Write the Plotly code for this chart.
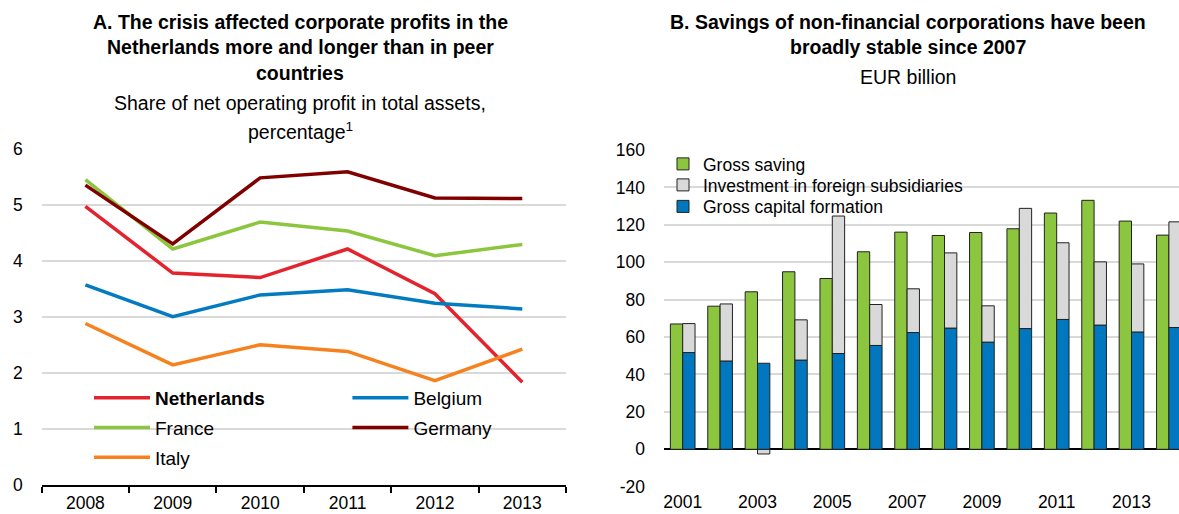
import plotly.graph_objects as go

# Panel A: share of net operating profit in total assets (%)
years_a = ['2008', '2009', '2010', '2011', '2012', '2013']
netherlands = [4.98, 3.79, 3.71, 4.22, 3.42, 1.84]
belgium = [3.58, 3.01, 3.40, 3.49, 3.25, 3.15]
france = [5.46, 4.22, 4.70, 4.54, 4.10, 4.30]
germany = [5.36, 4.31, 5.49, 5.60, 5.13, 5.12]
italy = [2.89, 2.15, 2.51, 2.39, 1.87, 2.43]

# Panel B: savings of non-financial corporations, EUR billion
years_b = list(range(2001, 2015))
gross_saving = [67, 76.5, 84.2, 94.9, 91.3, 105.6, 116.1, 114.3, 115.9, 117.9, 126.3, 133.1, 122, 114.5]
capital_formation = [51.7, 47.1, 46, 47.6, 51.2, 55.5, 62.4, 64.7, 57.2, 64.5, 69.4, 66.3, 62.6, 65.1]
foreign_subsidiaries = [15.5, 30.6, -2.5, 21.6, 73.5, 21.9, 23.4, 40.3, 19.5, 64.3, 41, 33.9, 36.5, 56.5]
tick_years_b = [2001, 2003, 2005, 2007, 2009, 2011, 2013]
ticks_b = list(range(-20, 161, 20))

FONT = 'Liberation Sans, Arial, sans-serif'
GRID = '#D9D9D9'
W, H = 1179, 514


def py(pix):
    return 1 - pix / H


def px(pix):
    return pix / W


fig = go.Figure()

lines = [
    ('<b>Netherlands</b>', netherlands, '#E3232D', 'legend'),
    ('Belgium', belgium, '#037BC1', 'legend2'),
    ('France', france, '#8CC63F', 'legend'),
    ('Germany', germany, '#800000', 'legend2'),
    ('Italy', italy, '#F5821F', 'legend'),
]
for name, vals, color, leg in lines:
    fig.add_trace(go.Scatter(
        x=years_a, y=vals, mode='lines', name=name,
        line=dict(color=color, width=3.5),
        legend=leg, legendgroup=name,
        xaxis='x', yaxis='y'
    ))

# Panel B bars: green on the left, blue + grey stacked on the right
outline = dict(color='#222222', width=1)
fig.add_trace(go.Bar(
    x=years_b, y=gross_saving, name='Gross saving',
    offset=-0.33, width=0.33,
    marker=dict(color='#8CC63F', line=outline),
    legend='legend3', xaxis='x2', yaxis='y2'
))
grey_base = [c if v >= 0 else 0 for c, v in zip(capital_formation, foreign_subsidiaries)]
fig.add_trace(go.Bar(
    x=years_b, y=foreign_subsidiaries, base=grey_base,
    name='Investment in foreign subsidiaries',
    offset=0, width=0.33,
    marker=dict(color='#D9D9D9', line=outline),
    legend='legend4', xaxis='x2', yaxis='y2'
))
fig.add_trace(go.Bar(
    x=years_b, y=capital_formation, name='Gross capital formation',
    offset=0, width=0.33,
    marker=dict(color='#0077BE', line=outline),
    legend='legend5', xaxis='x2', yaxis='y2'
))

titles = [
    ('<b>A. The crisis affected corporate profits in the</b>', 300, 22),
    ('<b>Netherlands more and longer than in peer</b>', 300, 47),
    ('<b>countries</b>', 300, 73),
    ('Share of net operating profit in total assets,', 300, 103),
    ('percentage<sup>1</sup>', 300, 131),
    ('<b>B. Savings of non-financial corporations have been</b>', 908, 22),
    ('<b>broadly stable since 2007</b>', 908, 47),
    ('EUR billion', 908, 77),
]
annotations = [
    dict(text=t, x=px(x), y=py(y), xref='paper', yref='paper',
         xanchor='center', yanchor='middle', showarrow=False,
         font=dict(family=FONT, size=19.5, color='black'))
    for t, x, y in titles
]


def legend_at(x, y, size=18, gap=0, itemwidth=30):
    return dict(
        x=px(x), y=py(y), xanchor='left', yanchor='top',
        bgcolor='rgba(0,0,0,0)', itemwidth=itemwidth, tracegroupgap=gap,
        font=dict(family=FONT, size=size)
    )


tick_font = dict(family=FONT, size=17.5, color='black')

fig.update_layout(
    width=W, height=H,
    margin=dict(l=0, r=0, t=0, b=0, autoexpand=False),
    paper_bgcolor='white', plot_bgcolor='white',
    font=dict(family=FONT, size=18, color='black'),
    barmode='overlay',
    annotations=annotations,
    xaxis=dict(
        domain=[px(41.7), px(566)], anchor='y',
        type='category', range=[-0.5, 5.5],
        showline=True, linecolor='black', linewidth=2,
        ticks='outside', tickson='boundaries', ticklen=6, tickwidth=2, tickcolor='black',
        showgrid=False, ticklabelstandoff=1, tickfont=tick_font
    ),
    yaxis=dict(
        domain=[py(485.3), py(149.3)], anchor='x',
        range=[0, 6], dtick=1,
        showgrid=True, gridcolor=GRID, gridwidth=1.5,
        zeroline=False, ticklabelstandoff=18, tickfont=tick_font
    ),
    xaxis2=dict(
        domain=[px(664), 1], anchor='y2',
        range=[2000.5, 2014.27],
        tickvals=tick_years_b,
        showline=False, showgrid=False, ticks='',
        ticklabelstandoff=3, tickfont=tick_font
    ),
    yaxis2=dict(
        domain=[py(486.7), py(150)], anchor='x2',
        range=[-20, 160], tickvals=ticks_b, ticktext=[str(v) for v in ticks_b],
        showgrid=True, gridcolor=GRID, gridwidth=1.5,
        zeroline=True, zerolinecolor='black', zerolinewidth=2,
        ticklabelstandoff=18, tickfont=tick_font
    ),
    legend=legend_at(89, 379, size=19, gap=2, itemwidth=56),
    legend2=legend_at(347.4, 379, size=19, gap=2, itemwidth=56),
    legend3=legend_at(663, 146, size=17.5),
    legend4=legend_at(663, 167, size=17.5),
    legend5=legend_at(663, 188.5, size=17.5),
)

# remove the default page margin so the figure sits at the window's corner
fig.write_html('out.html', config={'displayModeBar': False},
               post_script="document.body.style.margin='0';")
